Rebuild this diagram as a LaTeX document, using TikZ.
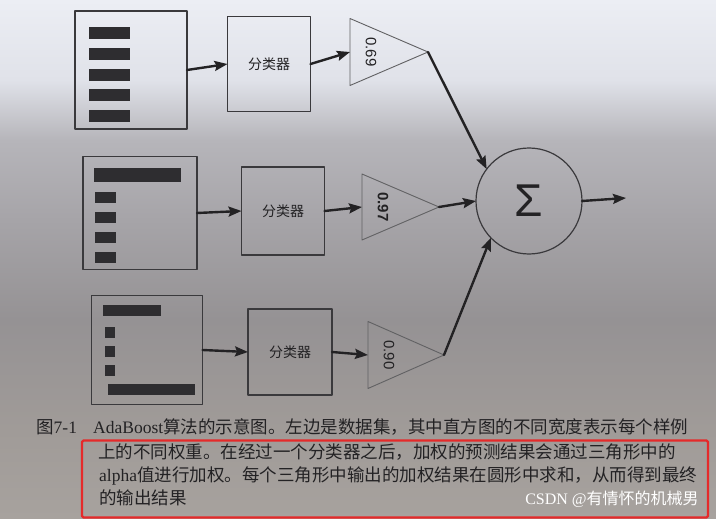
\documentclass[tikz,border=0pt]{standalone}
\usepackage{fontspec}
\setmainfont{Liberation Serif}
\newfontfamily\cjkfont{Noto Sans CJK SC}
\newfontfamily\numfont{Liberation Sans}
\usepackage{xcolor}
\usetikzlibrary{arrows.meta,shapes.geometric}
\definecolor{ink}{HTML}{232224}
\definecolor{boxline}{HTML}{3A393C}
\definecolor{barink}{HTML}{2E2D30}
\definecolor{bgtop}{HTML}{ECEEF4}
\definecolor{bgone}{HTML}{E0E2E9}
\definecolor{bgtwo}{HTML}{B6B5BA}
\definecolor{bgthree}{HTML}{A6A4A8}
\definecolor{bgfour}{HTML}{959294}
\definecolor{bgfive}{HTML}{A09B98}
\definecolor{bgbot}{HTML}{A7A29E}
\definecolor{markred}{HTML}{E52A2A}
\pgfdeclareverticalshading{photobg}{100bp}{color(0bp)=(bgbot); color(25bp)=(bgbot);
  color(33.6bp)=(bgfive); color(44.2bp)=(bgfour); color(53.8bp)=(bgthree);
  color(61.5bp)=(bgtwo); color(67.3bp)=(bgone); color(75bp)=(bgtop); color(100bp)=(bgtop)}
\tikzset{
    every picture/.style={line cap=round,line join=round},
    databox/.style={draw=boxline,line width=1.2pt,inner sep=0pt,outer sep=0pt},
    databar/.style={fill=barink},
    clfbox/.style={draw=boxline,line width=1.2pt,inner sep=0pt,outer sep=0pt,
      font=\cjkfont\fontsize{14}{14}\selectfont,text=ink},
    weighttri/.style={draw=boxline!80,line width=0.9pt,isosceles triangle,
      isosceles triangle stretches,shape border rotate=0,inner sep=0pt,outer sep=0pt},
    weightlbl/.style={font=\numfont\fontsize{15}{15}\selectfont,text=ink,rotate=-90},
    sumnode/.style={draw=boxline,circle,line width=1.2pt,inner sep=0pt,outer sep=0pt,
      font=\numfont\fontsize{46}{46}\selectfont,text=ink},
    flowarrow/.style={->,draw=ink,line width=2.4pt},
    captxt/.style={anchor=base west,inner sep=0pt,text=ink,
      font=\fontsize{17.5}{17.5}\selectfont},
    hlbox/.style={draw=markred,line width=2.4pt,rounded corners=1.5pt,inner sep=0pt},
    wmark/.style={text=white,font=\fontsize{16}{16}\selectfont,inner sep=0pt}
}

\begin{document}
\begin{tikzpicture}[x=1pt,y=-1pt,>={Stealth[length=13pt,width=10pt,inset=2pt]}]
  \useasboundingbox (0,0) rectangle (716,519);
  % photo background
  \shade[shading=photobg] (0,0) rectangle (716,519);

  % data sets
  \node[databox,minimum width=112pt,minimum height=118pt] (data1) at (131,70) {};
  \node[databox,minimum width=114pt,minimum height=113pt] (data2) at (140,213) {};
  \node[databox,minimum width=111pt,minimum height=109pt] (data3) at (147,350) {};
  \foreach \y in {27,48,69,89,110}
    \fill[databar] (89,\y) rectangle (130,\y+12);
  \fill[databar] (94,168) rectangle (181,182);
  \foreach \y in {192,212,232,252}
    \fill[databar] (95,\y) rectangle (116,\y+11);
  \fill[databar] (103,305) rectangle (161,316);
  \foreach \y in {327,346,365}
    \fill[databar] (105,\y) rectangle (115,\y+11);
  \fill[databar] (108,384) rectangle (195,395);

  % classifiers
  \node[clfbox,minimum width=83pt,minimum height=95pt] (clf1) at (269,64) {分类器};
  \node[clfbox,minimum width=83pt,minimum height=88pt] (clf2) at (283,211) {分类器};
  \node[clfbox,minimum width=84pt,minimum height=86pt] (clf3) at (290,352) {分类器};
  \draw[flowarrow] (data1.east) -- (clf1.west);
  \draw[flowarrow] (data2.east) -- (clf2.west);
  \draw[flowarrow] (data3.east) -- (clf3.west);

  % alpha weights
  \node[weighttri,minimum width=67pt,minimum height=78pt,anchor=lower side] (wt1) at (350,52) {};
  \node[weighttri,minimum width=66pt,minimum height=77pt,anchor=lower side] (wt2) at (362,207) {};
  \node[weighttri,minimum width=67pt,minimum height=76pt,anchor=lower side] (wt3) at (368,355) {};
  \node[weightlbl] (w1) at ([xshift=21pt]wt1.lower side) {0.69};
  \node[weightlbl] (w2) at ([xshift=21pt]wt2.lower side) {\bfseries 0.97};
  \node[weightlbl] (w3) at ([xshift=21pt]wt3.lower side) {0.90};
  \draw[flowarrow] (clf1.east) -- (wt1.lower side);
  \draw[flowarrow] (clf2.east) -- (wt2.lower side);
  \draw[flowarrow] (clf3.east) -- (wt3.lower side);

  % sum
  \node[sumnode,minimum size=106pt] (sum) at (529,201) {Σ};
  \coordinate (out) at (626,198);
  \draw[flowarrow] (wt1.apex) -- (sum.143);
  \draw[flowarrow] (wt2.apex) -- (sum.west);
  \draw[flowarrow] (wt3.apex) -- (sum.224);
  \draw[flowarrow] (sum.east) -- (out);

  % caption
  \node[captxt] (capno) at (36,433) {{\cjkfont 图}7-1};
  \node[captxt] (cap1) at (93,433) {AdaBoost{\cjkfont 算法的示意图。左边是数据集，其中直方图的不同宽度表示每个样例}};
  \node[captxt] (cap2) at (98,458) {\cjkfont 上的不同权重。在经过一个分类器之后，加权的预测结果会通过三角形中的};
  \node[captxt] (cap3) at (99,481) {alpha{\cjkfont 值进行加权。每个三角形中输出的加权结果在圆形中求和，从而得到最终}};
  \node[captxt] (cap4) at (99,504) {\cjkfont 的输出结果};
  \node[hlbox,minimum width=626pt,minimum height=77pt] (mark) at (395,479) {};
  \node[wmark] (wm) at (612,499) {CSDN @{\cjkfont 有情怀的机械男}};
\end{tikzpicture}
\end{document}
